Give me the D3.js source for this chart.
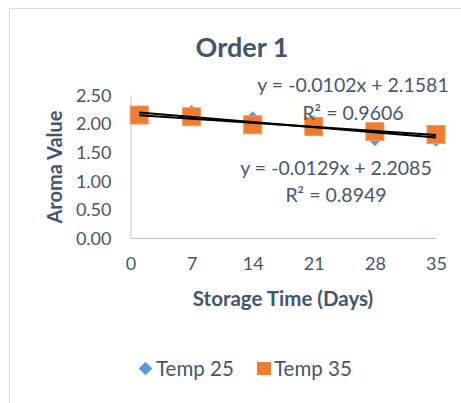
<!DOCTYPE html>
<html>
<head>
<meta charset="utf-8">
<script src="https://cdn.jsdelivr.net/npm/d3@7"></script>
<style>
  html, body { margin: 0; padding: 0; background: #fff; }
  svg { display: block; font-family: Lato, "Open Sans", sans-serif; }
</style>
</head>
<body>
<svg id="chart" width="461" height="403"></svg>
<script>
// Storage days and aroma scores for each temperature
const days = [1, 7, 14, 21, 28, 35];
const temp25 = [2.15, 2.21, 2.10, 2.03, 1.72, 1.71];
const temp35 = [2.15, 2.12, 1.98, 1.95, 1.86, 1.81];
const seriesNames = ["Temp 25", "Temp 35"];

// Linear trendline fits: [slope, intercept, R²]
const fit25 = [-0.0129, 2.2085, 0.8949];
const fit35 = [-0.0102, 2.1581, 0.9606];

const xTicks = [0, 7, 14, 21, 28, 35];
const yTicks = [0, 0.5, 1.0, 1.5, 2.0, 2.5];

const svg = d3.select("#chart");
const textColor = "#4a5668";

// outer frame
svg.append("rect")
  .attr("x", 9.5).attr("y", 8.5)
  .attr("width", 470).attr("height", 420)
  .attr("fill", "#fff").attr("stroke", "#d9dde4");

const x = d3.scaleLinear().domain([0, 35]).range([130.5, 436]);
const y = d3.scaleLinear().domain([0, 2.5]).range([238, 95]);

// title
svg.append("text")
  .attr("x", 242).attr("y", 57)
  .attr("text-anchor", "middle")
  .attr("font-size", 27).attr("font-weight", "bold")
  .attr("fill", "#44546a")
  .text("Order 1");

// axes
const yAxis = svg.append("g")
  .attr("transform", `translate(${x(0)},0)`)
  .call(d3.axisLeft(y).tickValues(yTicks).tickFormat(d3.format(".2f")).tickSize(0).tickPadding(19));
const xAxis = svg.append("g")
  .attr("transform", `translate(0,${y(0)})`)
  .call(d3.axisBottom(x).tickValues(xTicks).tickFormat(d3.format("d")).tickSize(0).tickPadding(19));

[yAxis, xAxis].forEach(g => {
  g.select(".domain").attr("stroke", "#bcc5d3").attr("stroke-width", 1);
  g.selectAll("text")
    .attr("font-size", 18)
    .attr("font-family", "Lato, 'Open Sans', sans-serif")
    .attr("fill", textColor);
});
yAxis.selectAll("text").attr("dy", "0.35em");

// axis titles
svg.append("text")
  .attr("transform", "translate(62,167) rotate(-90)")
  .attr("text-anchor", "middle")
  .attr("font-size", 20).attr("font-weight", "bold")
  .attr("fill", "#44546a")
  .text("Aroma Value");

svg.append("text")
  .attr("x", 283).attr("y", 306)
  .attr("text-anchor", "middle")
  .attr("font-size", 20.5).attr("font-weight", "bold")
  .attr("fill", "#44546a")
  .text("Storage Time (Days)");

const plot = svg.append("g");

// Temp 25 markers (diamonds)
const diamond = d3.symbol().type(d3.symbolDiamond2).size(110);
plot.selectAll("path.t25")
  .data(days.map((d, i) => [d, temp25[i]]))
  .join("path")
  .attr("class", "t25")
  .attr("d", diamond)
  .attr("transform", d => `translate(${x(d[0])},${y(d[1])})`)
  .attr("fill", "#5b9bd5");

// Temp 35 markers (squares)
const sq = 18;
plot.selectAll("rect.t35")
  .data(days.map((d, i) => [d, temp35[i]]))
  .join("rect")
  .attr("class", "t35")
  .attr("x", d => x(d[0]) - sq / 2)
  .attr("y", d => y(d[1]) - sq / 2)
  .attr("width", sq).attr("height", sq)
  .attr("fill", "#ed7d31")
  .attr("stroke", "#f29a5e").attr("stroke-width", 1);

// trendlines across the sampled range
[fit25, fit35].forEach(f => {
  const ends = [days[0], days[days.length - 1]];
  plot.append("path")
    .attr("d", d3.line().x(d => x(d)).y(d => y(f[0] * d + f[1]))(ends))
    .attr("stroke", "#000").attr("stroke-width", 2).attr("fill", "none");
});

// trendline equations
const fmtEq = f => `y = ${f[0].toFixed(4)}x + ${f[1].toFixed(4)}`;
const fmtR = f => `R² = ${f[2].toFixed(4)}`;
const labels = [
  { f: fit35, cx: 353, y1: 92, y2: 120 },
  { f: fit25, cx: 336, y1: 175, y2: 202 }
];
labels.forEach(l => {
  svg.append("text").attr("x", l.cx).attr("y", l.y1)
    .attr("text-anchor", "middle").attr("font-size", 19.5).attr("fill", textColor)
    .text(fmtEq(l.f));
  svg.append("text").attr("x", l.cx).attr("y", l.y2)
    .attr("text-anchor", "middle").attr("font-size", 19.5).attr("fill", textColor)
    .text(fmtR(l.f));
});

// legend
const leg = svg.append("g");
leg.append("path")
  .attr("d", d3.symbol().type(d3.symbolDiamond2).size(120)())
  .attr("transform", "translate(145.5,368.5)")
  .attr("fill", "#5b9bd5");
leg.append("text").attr("x", 156).attr("y", 376)
  .attr("font-size", 20.5).attr("fill", textColor).text(seriesNames[0]);
leg.append("rect")
  .attr("x", 257).attr("y", 362).attr("width", 14).attr("height", 13)
  .attr("fill", "#ed7d31");
leg.append("text").attr("x", 274).attr("y", 376)
  .attr("font-size", 20.5).attr("fill", textColor).text(seriesNames[1]);
</script>
</body>
</html>
